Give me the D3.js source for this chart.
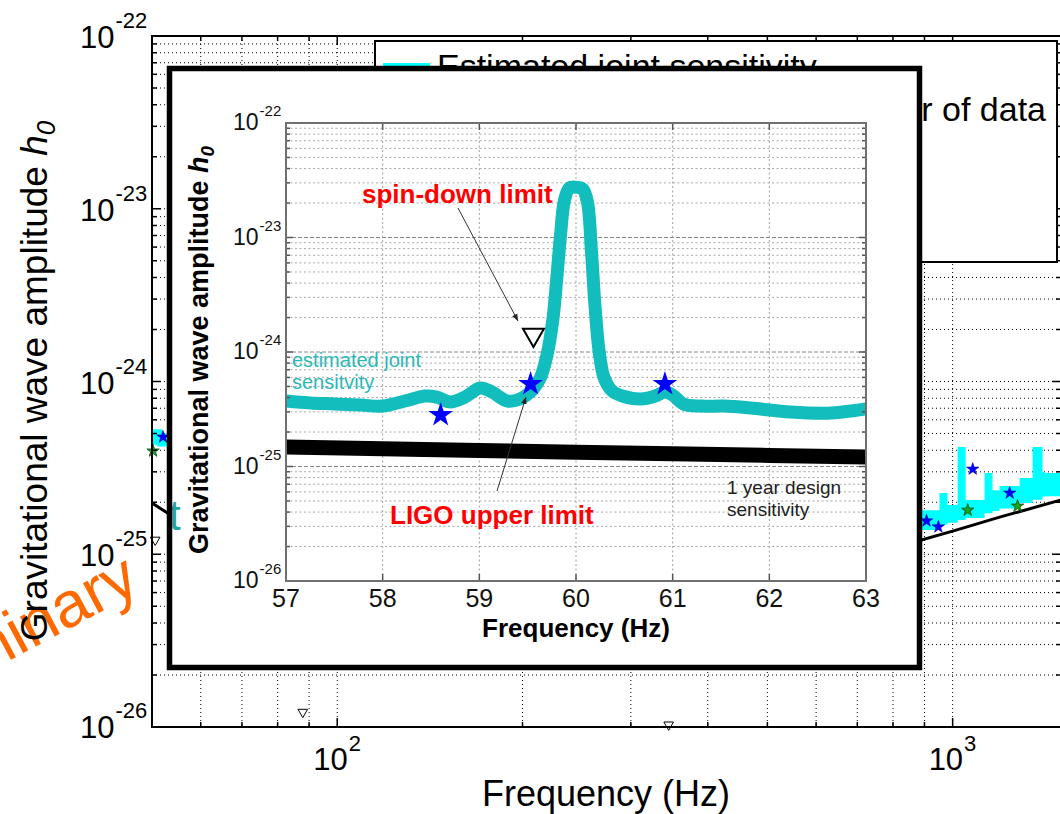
<!DOCTYPE html>
<html><head><meta charset="utf-8">
<script src="https://cdn.jsdelivr.net/npm/d3@7"></script>
<style>body{margin:0;background:#fff;} svg{display:block;font-family:"Liberation Sans",Arial,sans-serif;}</style>
</head><body><svg id="c" width="1060" height="814"></svg>
<script>
// ---------- MAIN CHART DATA ----------
const mainXTicks = [100, 1000];
const mainXTickExp = ["2", "3"];
const mainYTicks = [1e-22, 1e-23, 1e-24, 1e-25, 1e-26];
const mainYTickExp = ["-22", "-23", "-24", "-25", "-26"];

const designFreq = [50, 53, 890, 1000, 1200, 1500];
const designH0   = [1.98e-25, 1.73e-25, 1.21e-25, 1.36e-25, 1.65e-25, 2.06e-25];

const bandLeftFreq = [50, 51, 52, 53];
const bandLeftLow  = [4.3e-25, 4.2e-25, 4.2e-25, 4.2e-25];
const bandLeftHigh = [5.3e-25, 5.3e-25, 5.0e-25, 5.0e-25];

const bandRightFreq = [890, 952, 981, 1019, 1050, 1127, 1161, 1192, 1285, 1349, 1400, 1410, 1500];
const bandRightLow  = [1.38e-25, 1.48e-25, 1.52e-25, 1.58e-25, 1.62e-25, 1.73e-25, 1.78e-25, 1.84e-25, 1.98e-25, 2.07e-25, 2.15e-25, 2.17e-25, 2.29e-25];
const bandRightHigh = [1.80e-25, 2.26e-25, 1.93e-25, 4.18e-25, 2.06e-25, 2.95e-25, 2.35e-25, 2.48e-25, 2.76e-25, 4.18e-25, 2.99e-25, 2.95e-25, 2.95e-25];

const ulBlueFreq = [52.1, 907, 948, 1078, 1238];
const ulBlueH0   = [4.77e-25, 1.56e-25, 1.44e-25, 3.11e-25, 2.26e-25];
const ulGreenFreq = [50.2, 1058, 1275];
const ulGreenH0   = [3.96e-25, 1.80e-25, 1.90e-25];
const spinFreq = [50.6, 87.9, 345.6];
const spinH0   = [1.21e-25, 1.22e-26, 1.03e-26];

const legendLabels = ["Estimated joint sensitivity", "Design sensitivity for 1 year of data"];

// ---------- INSET DATA ----------
const insetXTicks = [57, 58, 59, 60, 61, 62, 63];
const insetYTicks = [1e-22, 1e-23, 1e-24, 1e-25, 1e-26];
const insetYTickExp = ["-22", "-23", "-24", "-25", "-26"];

const jointFreq = [57.0, 57.25, 57.5, 57.77, 58.0, 58.23, 58.44, 58.56, 58.7, 58.85, 59.01, 59.13, 59.29, 59.42, 59.53, 59.63, 59.70, 59.76, 59.80, 59.84, 59.88, 59.93, 60.0, 60.07, 60.12, 60.16, 60.20, 60.24, 60.29, 60.37, 60.48, 60.67, 60.82, 60.92, 61.0, 61.11, 61.29, 61.53, 61.81, 62.22, 62.64, 63.0];
const jointH0 = [3.73e-25, 3.59e-25, 3.52e-25, 3.44e-25, 3.37e-25, 3.73e-25, 4.13e-25, 4.04e-25, 3.66e-25, 4.04e-25, 4.85e-25, 4.48e-25, 3.73e-25, 3.89e-25, 4.48e-25, 5.93e-25, 9.42e-25, 1.90e-24, 4.26e-24, 1.05e-23, 2.10e-23, 2.70e-23, 2.75e-23, 2.65e-23, 2.0e-23, 7.5e-24, 2.3e-24, 1.0e-24, 6.0e-25, 4.6e-25, 4.13e-25, 3.89e-25, 4.13e-25, 4.48e-25, 4.21e-25, 3.52e-25, 3.37e-25, 3.37e-25, 3.24e-25, 2.99e-25, 2.93e-25, 3.18e-25];

const insetDesignFreq = [57, 58, 59, 60, 61, 62, 63];
const insetDesignH0   = [1.48e-25, 1.43e-25, 1.38e-25, 1.33e-25, 1.29e-25, 1.25e-25, 1.21e-25];

const insetULFreq = [58.6, 59.53, 60.92];
const insetULH0   = [2.82e-25, 5.25e-25, 5.25e-25];
const insetSpinFreq = [59.56];
const insetSpinH0   = [1.41e-24];

// ---------- DRAW ----------
const svg = d3.select("#c");
const X = d3.scaleLog().domain([50, 1500]).range([152, 1061]);
const Y = d3.scaleLog().domain([1e-26, 1e-22]).range([727, 36]);
const isMajor = v => Math.abs(Math.log10(v) - Math.round(Math.log10(v))) < 1e-9;

// main grid
const gm = svg.append("g");
X.ticks().filter(v => v > 50 && v < 1500).forEach(v => {
  gm.append("line").attr("x1", X(v)).attr("x2", X(v)).attr("y1", 36).attr("y2", 727)
    .attr("stroke", "#000").attr("stroke-width", 1).attr("stroke-dasharray", "1,3");
});
Y.ticks().filter(v => v > 1.01e-26 && v < 0.99e-22).forEach(v => {
  gm.append("line").attr("x1", 152).attr("x2", 1061).attr("y1", Y(v)).attr("y2", Y(v))
    .attr("stroke", "#000").attr("stroke-width", 1).attr("stroke-dasharray", "1,3");
});

// main data
const bandArea = (lo, hi) => d3.area().x((d, i) => X(d)).y0((d, i) => Y(lo[i])).y1((d, i) => Y(hi[i])).curve(d3.curveStepAfter);
gm.append("path").datum(bandLeftFreq).attr("d", bandArea(bandLeftLow, bandLeftHigh)).attr("fill", "#00ffff");
gm.append("path").datum(bandRightFreq).attr("d", bandArea(bandRightLow, bandRightHigh)).attr("fill", "#00ffff");
gm.append("path").datum(designFreq)
  .attr("d", d3.line().x(d => X(d)).y((d, i) => Y(designH0[i])))
  .attr("fill", "none").attr("stroke", "#000").attr("stroke-width", 3);

const starSmall = d3.symbol().type(d3.symbolStar).size(48);
ulBlueFreq.forEach((f, i) => gm.append("path").attr("d", starSmall())
  .attr("transform", `translate(${X(f)},${Y(ulBlueH0[i])})`).attr("fill", "#0000ff").attr("stroke", "#0000aa").attr("stroke-width", 0.6));
ulGreenFreq.forEach((f, i) => gm.append("path").attr("d", starSmall())
  .attr("transform", `translate(${X(f)},${Y(ulGreenH0[i])})`).attr("fill", "#1fa01f").attr("stroke", "#005000").attr("stroke-width", 0.8));
const triSmall = d3.symbol().type(d3.symbolTriangle).size(40);
spinFreq.forEach((f, i) => gm.append("path").attr("d", triSmall())
  .attr("transform", `translate(${X(f)},${Y(spinH0[i])}) rotate(180)`).attr("fill", "#fff").attr("stroke", "#000").attr("stroke-width", 1));

// main ticks
X.ticks().filter(v => v > 50 && v < 1500).forEach(v => {
  const L = isMajor(v) ? 9 : 5;
  gm.append("line").attr("x1", X(v)).attr("x2", X(v)).attr("y1", 727).attr("y2", 727 - L).attr("stroke", "#000").attr("stroke-width", 1.5);
  gm.append("line").attr("x1", X(v)).attr("x2", X(v)).attr("y1", 36).attr("y2", 36 + L).attr("stroke", "#000").attr("stroke-width", 1.5);
});
Y.ticks().filter(v => v > 1.01e-26 && v < 0.99e-22).forEach(v => {
  const L = isMajor(v) ? 9 : 5;
  gm.append("line").attr("x1", 152).attr("x2", 152 + L).attr("y1", Y(v)).attr("y2", Y(v)).attr("stroke", "#000").attr("stroke-width", 1.5);
  gm.append("line").attr("x1", 1061).attr("x2", 1061 - L).attr("y1", Y(v)).attr("y2", Y(v)).attr("stroke", "#000").attr("stroke-width", 1.5);
});
gm.append("rect").attr("x", 152).attr("y", 36).attr("width", 909).attr("height", 691)
  .attr("fill", "none").attr("stroke", "#000").attr("stroke-width", 2);

// main tick labels (10 with superscript exponent, one text element each)
function powLabel(x, y, exp, dy) {
  const t = svg.append("text").attr("x", x).attr("y", y);
  t.append("tspan").attr("font-size", 31).text("10");
  t.append("tspan").attr("font-size", 22).attr("dx", 1).attr("dy", dy).text(exp);
}
mainYTicks.forEach((v, i) => powLabel(80, Y(v) + (i === mainYTicks.length - 1 ? 11 : 12), mainYTickExp[i], -20));
mainXTicks.forEach((v, i) => powLabel(X(v) - 24, 770, mainXTickExp[i], -19));

// main axis labels
svg.append("text").attr("x", 606).attr("y", 806).attr("text-anchor", "middle").attr("font-size", 36).text("Frequency (Hz)");

// Preliminary watermark (behind y label)
svg.append("text").attr("transform", "translate(142,590) rotate(-28)").attr("text-anchor", "end")
  .attr("font-size", 64).attr("fill", "#ff6a00").text("Preliminary");

const yl = svg.append("text").attr("transform", "translate(47,381) rotate(-90)").attr("text-anchor", "middle").attr("font-size", 37);
yl.append("tspan").text("Gravitational wave amplitude ");
yl.append("tspan").attr("font-style", "italic").text("h");
yl.append("tspan").attr("font-style", "italic").attr("font-size", 26).attr("dy", 8).text("0");

// legend
const lg = svg.append("g");
lg.append("rect").attr("x", 375).attr("y", 41).attr("width", 682).attr("height", 221).attr("fill", "#fff").attr("stroke", "#000").attr("stroke-width", 2);
lg.append("line").attr("x1", 383).attr("x2", 430).attr("y1", 67).attr("y2", 67).attr("stroke", "#00ffff").attr("stroke-width", 8);
lg.append("text").attr("x", 437).attr("y", 78).attr("font-size", 34).text(legendLabels[0]);
lg.append("text").attr("x", 1046).attr("y", 121).attr("text-anchor", "end").attr("font-size", 34).text(legendLabels[1]);

// ---------- INSET ----------
const gi = svg.append("g");
gi.append("rect").attr("x", 169.5).attr("y", 68.5).attr("width", 750).attr("height", 599).attr("fill", "#fff");
const XI = d3.scaleLinear().domain([57, 63]).range([286, 866]);
const YI = d3.scaleLog().domain([1e-26, 1e-22]).range([581, 123]);

// inset grid
insetXTicks.slice(1, -1).forEach(v => gi.append("line").attr("x1", XI(v)).attr("x2", XI(v)).attr("y1", 123).attr("y2", 581)
  .attr("stroke", "#a0a0a0").attr("stroke-dasharray", "2,2.5"));
YI.ticks().filter(v => v > 1.01e-26 && v < 0.99e-22).forEach(v => gi.append("line").attr("x1", 286).attr("x2", 866).attr("y1", YI(v)).attr("y2", YI(v))
  .attr("stroke", isMajor(v) ? "#888" : "#a8a8a8").attr("stroke-dasharray", isMajor(v) ? "4,2" : "2,2.5"));

// inset curves
gi.append("path").datum(insetDesignFreq)
  .attr("d", d3.line().x(d => XI(d)).y((d, i) => YI(insetDesignH0[i])))
  .attr("fill", "none").attr("stroke", "#000").attr("stroke-width", 15);
gi.append("path").datum(jointFreq)
  .attr("d", d3.line().x(d => XI(d)).y((d, i) => YI(jointH0[i])).curve(d3.curveCatmullRom))
  .attr("fill", "none").attr("stroke", "#12bdbd").attr("stroke-width", 13).attr("stroke-linejoin", "round");

const starBig = d3.symbol().type(d3.symbolStar).size(190);
insetULFreq.forEach((f, i) => gi.append("path").attr("d", starBig())
  .attr("transform", `translate(${XI(f)},${YI(insetULH0[i])})`).attr("fill", "#0000ff"));
const triBig = d3.symbol().type(d3.symbolTriangle).size(190);
insetSpinFreq.forEach((f, i) => gi.append("path").attr("d", triBig())
  .attr("transform", `translate(${XI(f)},${YI(insetSpinH0[i])}) rotate(180)`).attr("fill", "#fff").attr("stroke", "#000").attr("stroke-width", 2));

// inset ticks and box
YI.ticks().filter(v => v > 1.01e-26 && v < 0.99e-22).forEach(v => {
  const L = isMajor(v) ? 7 : 4;
  gi.append("line").attr("x1", 286).attr("x2", 286 + L).attr("y1", YI(v)).attr("y2", YI(v)).attr("stroke", "#555").attr("stroke-width", 1.5);
  gi.append("line").attr("x1", 866).attr("x2", 866 - L).attr("y1", YI(v)).attr("y2", YI(v)).attr("stroke", "#555").attr("stroke-width", 1.5);
});
insetXTicks.slice(1, -1).forEach(v => {
  gi.append("line").attr("x1", XI(v)).attr("x2", XI(v)).attr("y1", 581).attr("y2", 574).attr("stroke", "#555").attr("stroke-width", 1.5);
  gi.append("line").attr("x1", XI(v)).attr("x2", XI(v)).attr("y1", 123).attr("y2", 130).attr("stroke", "#555").attr("stroke-width", 1.5);
});
gi.append("rect").attr("x", 286).attr("y", 123).attr("width", 580).attr("height", 458).attr("fill", "none").attr("stroke", "#707070").attr("stroke-width", 2);

// inset tick labels
insetYTicks.forEach((v, i) => {
  const t = gi.append("text").attr("x", 233).attr("y", YI(v) + 7).attr("fill", "#111");
  t.append("tspan").attr("font-size", 23).text("10");
  t.append("tspan").attr("font-size", 15).attr("dx", 1).attr("dy", -14).text(insetYTickExp[i]);
});
insetXTicks.forEach(v => gi.append("text").attr("x", XI(v)).attr("y", 607).attr("text-anchor", "middle").attr("font-size", 25).attr("fill", "#111").text(String(v)));

gi.append("text").attr("x", 576).attr("y", 637).attr("text-anchor", "middle").attr("font-size", 26).attr("font-weight", "bold").text("Frequency (Hz)");
const yli = gi.append("text").attr("transform", "translate(208,350) rotate(-90)").attr("text-anchor", "middle").attr("font-size", 27).attr("font-weight", "bold");
yli.append("tspan").text("Gravitational wave amplitude ");
yli.append("tspan").attr("font-style", "italic").text("h");
yli.append("tspan").attr("font-style", "italic").attr("font-size", 19).attr("dy", 6).text("0");

// annotations
svg.append("defs").append("marker").attr("id", "ah").attr("viewBox", "0 0 10 10").attr("refX", 10).attr("refY", 5)
  .attr("markerWidth", 7).attr("markerHeight", 7).attr("orient", "auto")
  .append("path").attr("d", "M0,1 L10,5 L0,9 Z").attr("fill", "#222");
gi.append("text").attr("x", 362).attr("y", 203).attr("font-size", 26).attr("font-weight", "bold").attr("fill", "#ff0000").text("spin-down limit");
gi.append("line").attr("x1", 458).attr("y1", 208).attr("x2", 518).attr("y2", 321).attr("stroke", "#333").attr("stroke-width", 1).attr("marker-end", "url(#ah)");
gi.append("text").attr("x", 390).attr("y", 524).attr("font-size", 26).attr("font-weight", "bold").attr("fill", "#ff0000").text("LIGO upper limit");
gi.append("line").attr("x1", 497).attr("y1", 491).attr("x2", 526).attr("y2", 397).attr("stroke", "#333").attr("stroke-width", 1).attr("marker-end", "url(#ah)");
gi.append("text").attr("x", 292).attr("y", 367).attr("font-size", 20).attr("fill", "#2bb8b8").text("estimated joint");
gi.append("text").attr("x", 292).attr("y", 389).attr("font-size", 20).attr("fill", "#2bb8b8").text("sensitvity");
gi.append("text").attr("x", 727).attr("y", 494).attr("font-size", 19).attr("fill", "#222").text("1 year design");
gi.append("text").attr("x", 727).attr("y", 516).attr("font-size", 19).attr("fill", "#222").text("sensitivity");

// stray teal letter at inset edge
svg.append("text").attr("x", 169).attr("y", 530).attr("font-size", 42).attr("fill", "#1ea5a5").text("t");

// inset frame
svg.append("rect").attr("x", 169.5).attr("y", 68.5).attr("width", 750).attr("height", 599)
  .attr("fill", "none").attr("stroke", "#000").attr("stroke-width", 5.5);
</script></body></html>
